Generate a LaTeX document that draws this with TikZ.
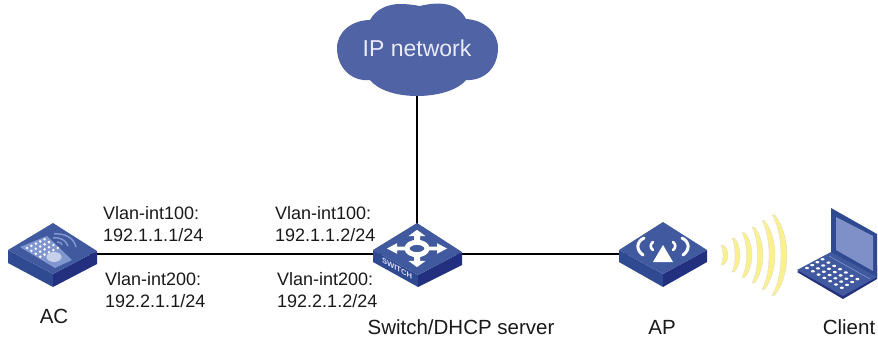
\documentclass[tikz,border=0pt]{standalone}
\usepackage{fontspec}
\setmainfont{Liberation Sans}
\definecolor{topface}{HTML}{41599F}
\definecolor{leftface}{HTML}{2F4A90}
\definecolor{rightface}{HTML}{22307F}
\definecolor{cloudblue}{HTML}{4F63A5}
\definecolor{wave}{HTML}{FBF08E}
\definecolor{screenblue}{HTML}{7F90C8}
\definecolor{padblue}{HTML}{7F96CF}
\tikzset{
  lbl/.style={anchor=base west,font=\fontsize{18}{20}\selectfont,inner sep=0pt,text=black!90},
  caption/.style={anchor=base,font=\fontsize{20.5}{22}\selectfont,inner sep=0pt,text=black!90},
  anchorpt/.style={inner sep=0pt,minimum size=0pt},
  link/.style={line width=2.5pt,black},
  wavearc/.style={fill=wave,draw=black!15,line width=.3pt},
}
\begin{document}
\begin{tikzpicture}[x=1pt,y=-1pt]
\useasboundingbox (0,0) rectangle (878,342);
% anchors
\node[anchorpt] (ac) at (53,254) {};
\node[anchorpt] (sw) at (417,254) {};
\node[anchorpt] (ap) at (663,254) {};
\node[anchorpt] (net) at (417,60) {};
% links
\draw[link] (ac) -- (sw);
\draw[link] (sw) -- (ap);
\draw[link] (net) -- (sw);
% cloud
\fill[cloudblue] (370,80)
  .. controls (352,82) and (337,68) .. (337,48)
  .. controls (337,32) and (352,20) .. (370,20)
  .. controls (376,9) and (388,4) .. (400,4)
  .. controls (408,4) and (414,5) .. (420,6)
  .. controls (428,4) and (436,3) .. (444,4)
  .. controls (454,5) and (462,11) .. (466,19)
  .. controls (484,20) and (498,32) .. (498,48)
  .. controls (498,68) and (484,81) .. (466,80)
  .. controls (458,90) and (438,96) .. (417,96)
  .. controls (396,96) and (378,90) .. (370,80) -- cycle;
\node[anchor=base,font=\fontsize{23}{25}\selectfont,text=white!92!blue,inner sep=0pt] (nettext) at (417,57) {IP network};
% AC
\fill[leftface] (8,250) -- (53,274) -- (53,287) -- (8,263) -- cycle;
\fill[rightface] (97,251) -- (53,274) -- (53,287) -- (97,264) -- cycle;
\fill[topface] (8,250) -- (53,223) -- (97,251) -- (53,274) -- cycle;
\fill[padblue] (20,247) -- (47,236) -- (72,260) -- (55,268) -- cycle;
\foreach \i in {0,...,4}{\foreach \j in {0,...,3}{
  \fill[white] ({27+\i*4.4+\j*4.4},{248-\i*2.2+\j*2.9}) circle (1.4pt);}}
\fill[white!55!padblue] (54,257) ellipse (7.5pt and 5pt);
\draw[padblue,line width=1.5pt] (53,238) .. controls (60,237) and (66,240) .. (68,246);
\draw[padblue,line width=1.5pt] (54,234) .. controls (65,233) and (74,238) .. (76,247);
\draw[padblue,line width=1.5pt] (57,242) .. controls (60,242) and (62,243) .. (62,245);
% switch
\fill[leftface] (373,250) -- (418,275) -- (418,287) -- (373,262) -- cycle;
\fill[rightface] (462,252) -- (418,275) -- (418,287) -- (462,265) -- cycle;
\fill[topface] (373,250) -- (417,223) -- (462,252) -- (418,275) -- cycle;
\begin{scope}[shift={(417,248.5)},yscale=0.62]
  \draw[white,line width=5pt] (0,0) circle (10pt);
  \foreach \a in {0,90,180,270}{
    \begin{scope}[rotate=\a]
      \fill[white] (11,-3) -- (20,-3) -- (20,-8.5) -- (30,0) -- (20,8.5) -- (20,3) -- (11,3) -- cycle;
    \end{scope}}
\end{scope}
\node[anchorpt,font=\fontsize{7.6}{8}\bfseries\selectfont,text=white!85!blue,cm={1,-0.55,0,1,(0,0)}] (swtext) at (397,268.5) {SWITCH};
% AP
\fill[leftface] (619,250) -- (663,274) -- (663,287) -- (619,262) -- cycle;
\fill[rightface] (707,250) -- (663,274) -- (663,287) -- (707,262) -- cycle;
\fill[topface] (619,250) -- (663,222) -- (707,250) -- (663,274) -- cycle;
\fill[white] (663,245) -- (673,262) -- (653,262) -- cycle;
\foreach \s in {1,-1}{
  \begin{scope}[shift={(663,247)},xscale=\s]
  \draw[white,line width=2.6pt,line cap=round] (10,-5) .. controls (13,-3) and (13,1) .. (10,3);
  \draw[white,line width=3pt,line cap=round] (19,-9) .. controls (27,-5) and (27,3) .. (20,8);
  \end{scope}}
% waves
\foreach \x/\h/\p/\t in {721/10/7/5,732/17/8/5,742/22.5/10/5.5,752/28/11/5.5,762/34.5/13/6,772/40.5/15/6}{
  \path[wavearc] (\x,255-\h) .. controls ({\x+(\p-\t)/.75},{255-\h*.5}) and ({\x+(\p-\t)/.75},{255+\h*.5}) .. (\x,255+\h)
   -- ({\x+2.5},{255+\h})  .. controls ({\x+2.5+(\p-2.5)/.75},{255+\h*.5}) and ({\x+2.5+(\p-2.5)/.75},{255-\h*.5}) .. ({\x+2.5},{255-\h}) -- cycle;
}
% client
\fill[rightface] (797,272) -- (843,299) -- (877,279) -- (877,266) -- (831,253) -- cycle;
\fill[leftface] (831,208) -- (877,234) -- (877,278) -- (831,253) -- cycle;
\fill[screenblue] (836,217) -- (873,236) -- (873,271) -- (836,250) -- cycle;
\fill[topface] (797,270) -- (831,252) -- (877,277) -- (843,296) -- cycle;
\draw[padblue,line width=.6pt] (829,256) -- (870,279);
\foreach \i in {0,...,6}{\foreach \j in {0,...,3}{
  \fill[white] ({807+\i*5.8+\j*5.2},{268+\i*3.3-\j*2.9}) ellipse (2pt and 1.2pt);}}
% text
\node[lbl] (a1) at (103,219) {Vlan-int100:};
\node[lbl] (a2) at (103,241) {192.1.1.1/24};
\node[lbl] (a3) at (105,285) {Vlan-int200:};
\node[lbl] (a4) at (105,307) {192.2.1.1/24};
\node[lbl] (b1) at (275,219) {Vlan-int100:};
\node[lbl] (b2) at (275,241) {192.1.1.2/24};
\node[lbl] (b3) at (277,285) {Vlan-int200:};
\node[lbl] (b4) at (277,307) {192.2.1.2/24};
\node[caption] (c1) at (54,323) {AC};
\node[caption] (c2) at (461,334) {Switch/DHCP server};
\node[caption] (c3) at (662,334) {AP};
\node[caption] (c4) at (849,334) {Client};
\end{tikzpicture}
\end{document}
